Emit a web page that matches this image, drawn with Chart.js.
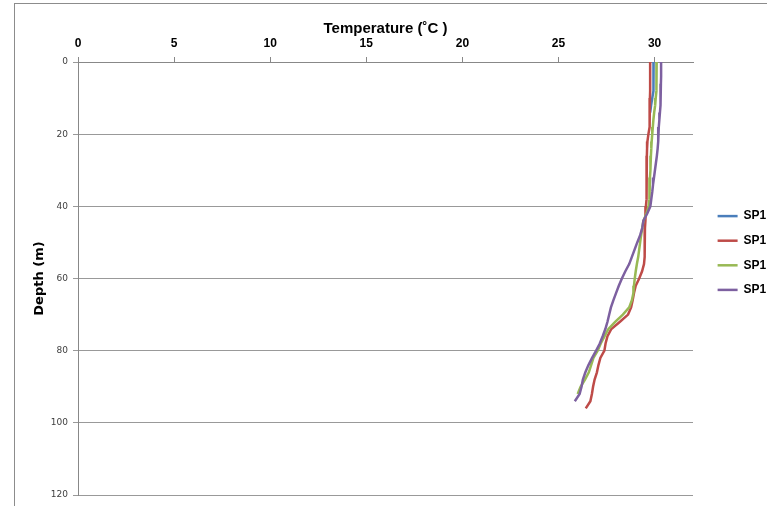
<!DOCTYPE html>
<html lang="en">
<head>
<meta charset="utf-8"/>
<title>Temperature profile</title>
<script src="https://cdn.jsdelivr.net/npm/chart.js"></script>
<style>
  html, body { margin: 0; padding: 0; background: #fff; overflow: hidden; }
  /* outer chart frame like the spreadsheet object border */
  .frame { position: absolute; left: 14px; top: 3px; width: 760px; height: 510px;
           border-left: 1px solid #8c8c8c; border-top: 1px solid #8c8c8c; }
  .wrap { position: absolute; left: 0; top: 0; width: 767px; height: 506px; }
</style>
</head>
<body>
<div class="frame"></div>
<div class="wrap"><canvas id="profile" width="767" height="506"></canvas></div>
<script>
// depth (m) of each reading, shared by all casts
const depths = [0, 2, 4, 6, 8, 10, 12, 14, 16, 18, 20, 22, 24, 26, 28, 30, 32, 34, 36, 38,
                40, 42, 44, 46, 48, 50, 52, 54, 56, 58, 60, 62, 64, 66, 68, 70, 72, 74, 76, 78,
                80, 82, 84, 86, 88, 90, 92, 94, 96];

// temperature (C) per cast, read top-down
const tempBlue = [29.95, 29.95, 29.95, 29.94, 29.93, 29.88, 29.82, 29.77];
const tempRed = [29.77, 29.77, 29.77, 29.77, 29.77, 29.76, 29.76, 29.75, 29.74, 29.72,
                 29.68, 29.63, 29.61, 29.6, 29.6, 29.6, 29.59, 29.58, 29.57, 29.56,
                 29.55, 29.53, 29.52, 29.5, 29.5, 29.49, 29.48, 29.47, 29.45, 29.35,
                 29.2, 29.02, 28.93, 28.86, 28.78, 28.62, 28.2, 27.75, 27.55, 27.45,
                 27.39, 27.18, 27.08, 27.0, 26.88, 26.8, 26.74, 26.66, 26.42];
const tempGreen = [30.11, 30.11, 30.1, 30.1, 30.08, 30.06, 30.03, 29.98, 29.94, 29.91,
                   29.88, 29.85, 29.83, 29.81, 29.79, 29.78, 29.76, 29.75, 29.73, 29.72,
                   29.69, 29.58, 29.42, 29.36, 29.3, 29.25, 29.2, 29.15, 29.08, 29.02,
                   28.97, 28.93, 28.9, 28.82, 28.68, 28.35, 27.95, 27.6, 27.4, 27.2,
                   27.04, 26.82, 26.7, 26.58, 26.38, 26.15, 26.0];
const tempPurple = [30.34, 30.34, 30.34, 30.33, 30.32, 30.31, 30.3, 30.28, 30.25, 30.22,
                    30.2, 30.18, 30.16, 30.12, 30.07, 30.02, 29.97, 29.92, 29.88, 29.83,
                    29.78, 29.62, 29.42, 29.36, 29.25, 29.1, 28.96, 28.82, 28.68, 28.48,
                    28.3, 28.14, 28.0, 27.86, 27.73, 27.64, 27.55, 27.44, 27.3, 27.15,
                    26.96, 26.75, 26.56, 26.4, 26.27, 26.2, 26.1, 25.85];

const seriesNames = ['SP1', 'SP1', 'SP1', 'SP1'];
const seriesColors = ['#4a7ebb', '#be4b48', '#98b954', '#7d60a0'];
const xTickMax = 30;

function profile(temps) {
  return temps.map((t, i) => ({ x: t, y: depths[i] }));
}

const casts = [tempBlue, tempRed, tempGreen, tempPurple];

new Chart(document.getElementById('profile'), {
  type: 'line',
  data: {
    datasets: casts.map((temps, i) => ({
      label: seriesNames[i],
      data: profile(temps),
      borderColor: seriesColors[i],
      backgroundColor: seriesColors[i],
      borderWidth: 2.5,
      pointRadius: 0,
      fill: false,
      tension: 0,
      order: casts.length - i,   // last series painted on top, like Excel
      xAxisID: 'x',
      yAxisID: 'y'
    }))
  },
  options: {
    responsive: false,
    animation: false,
    layout: { padding: { top: 11, bottom: 11, left: 0, right: 0 } },
    plugins: {
      tooltip: { enabled: false },
      legend: {
        position: 'right',
        maxWidth: 62,
        labels: {
          usePointStyle: true,
          pointStyle: 'line',
          pointStyleWidth: 20,
          padding: 12.6,
          color: '#000',
          font: { family: 'Liberation Sans', weight: 'bold', size: 12 },
          sort: (a, b) => a.datasetIndex - b.datasetIndex
        }
      }
    },
    scales: {
      x: {
        type: 'linear',
        position: 'top',
        min: 0,
        max: 32,
        ticks: {
          stepSize: 5,
          includeBounds: false,
          maxRotation: 0,
          padding: 6,
          color: '#000',
          font: { family: 'Liberation Sans', weight: 'bold', size: 12 }
        },
        afterBuildTicks: s => { s.ticks = s.ticks.filter(t => t.value <= xTickMax); },
        grid: { drawOnChartArea: false, drawTicks: true, tickLength: 5, color: '#888' },
        border: { color: '#888' },
        title: {
          display: true,
          text: 'Temperature (˚C )',
          color: '#000',
          font: { family: 'Liberation Sans', weight: 'bold', size: 15 },
          padding: { top: 9, bottom: 0 }
        },
        afterFit: s => { s.height = 51; }
      },
      y: {
        type: 'linear',
        position: 'left',
        reverse: true,
        min: 0,
        max: 120,
        ticks: {
          stepSize: 20,
          padding: 5,
          color: '#404040',
          font: { family: 'DejaVu Sans', size: 9 }
        },
        grid: { color: '#999', tickLength: 5 },
        border: { color: '#888' },
        title: {
          display: true,
          text: 'Depth (m)',
          color: '#000',
          font: { family: 'DejaVu Sans', weight: 'bold', size: 13 },
          padding: { top: 32, bottom: 0 }
        },
        afterFit: s => { s.width = 78; }
      },
      // empty spacer between plot area and legend
      gap: {
        type: 'linear',
        position: 'right',
        display: true,
        grid: { display: false },
        border: { display: false },
        ticks: { display: false },
        afterFit: s => { s.width = 12; }
      }
    }
  }
});
</script>
</body>
</html>
